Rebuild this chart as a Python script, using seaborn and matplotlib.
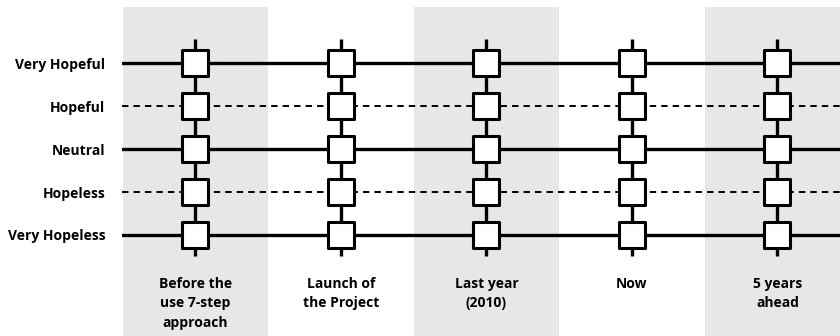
import matplotlib
matplotlib.use("Agg")
import matplotlib.pyplot as plt
import seaborn as sns
import pandas as pd

# categorias (colunas) e níveis (linhas)
periods = ["Before the\nuse 7-step\napproach", "Launch of\nthe Project",
           "Last year\n(2010)", "Now", "5 years\nahead"]
levels = ["Very Hopeless", "Hopeless", "Neutral", "Hopeful", "Very Hopeful"]
level_styles = ["solid", "dashed", "solid", "dashed", "solid"]
shaded_periods = [0, 2, 4]

sns.set_theme(style="white")
plt.rcParams["font.family"] = ["Open Sans", "DejaVu Sans"]

grid = pd.DataFrame(
    [(i, j) for i in range(len(periods)) for j in range(len(levels))],
    columns=["period", "level"],
)

fig = plt.figure(figsize=(8.4, 3.36), dpi=100)
ax = fig.add_axes([122 / 840, 0, 1 - 122 / 840, 1])
ax.set_xlim(-0.505, 4.43)
ax.set_ylim(-2.353, 5.474)

# faixas cinzas
for i in shaded_periods:
    ax.axvspan(i - 0.5, i + 0.5, ymin=0, ymax=1 - 7 / 336,
               color="#e6e7e8", lw=0, zorder=0)

# linhas horizontais
for j, ls in enumerate(level_styles):
    if ls == "solid":
        ax.axhline(j, color="black", lw=2.4, zorder=1)
    else:
        ax.axhline(j, color="black", lw=1.4, ls=(0, (3.3, 2.6)), zorder=1)

# linhas verticais
ax.vlines(range(len(periods)), -0.49, 4.56, color="black", lw=2.4, zorder=2)

sns.scatterplot(data=grid, x="period", y="level", marker="s", s=18.5 ** 2,
                color="white", edgecolor="black", linewidth=2.2,
                zorder=3, ax=ax, legend=False)

ax.set_yticks(range(len(levels)))
ax.set_yticklabels(levels, fontweight="bold", fontsize=10, color="black")
ax.tick_params(axis="y", length=0, pad=12)
ax.set_xticks([])
ax.set_xlabel("")
ax.set_ylabel("")
for s in ax.spines.values():
    s.set_visible(False)

for i, lab in enumerate(periods):
    ax.text(i, -0.97, lab, ha="center", va="top", fontsize=10,
            fontweight="bold", color="black", linespacing=1.5)

fig.savefig("out.png", dpi=100)
